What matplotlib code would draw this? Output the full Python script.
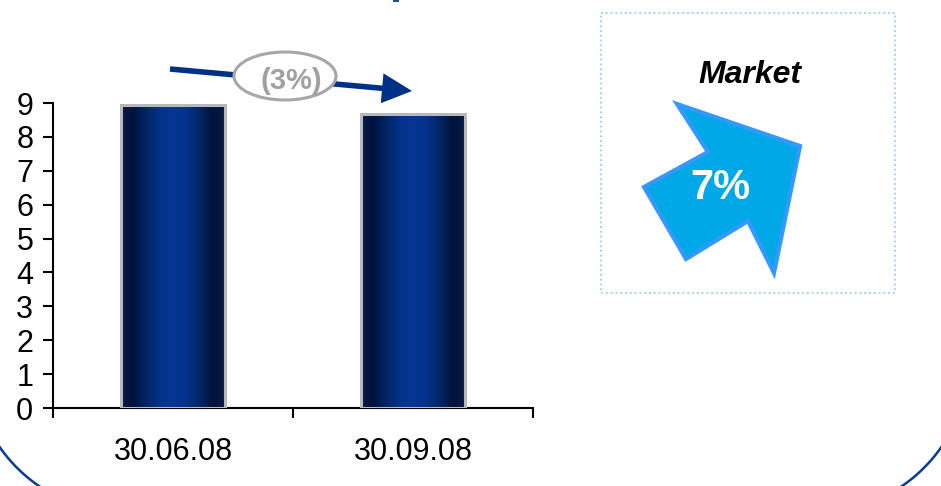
import numpy as np
import matplotlib
matplotlib.use("Agg")
import matplotlib.pyplot as plt
from matplotlib.colors import LinearSegmentedColormap
from matplotlib.patches import Ellipse, Rectangle, Polygon

plt.rcParams['font.family'] = ['Liberation Sans', 'DejaVu Sans']

# ---- data ----
categories = ['30.06.08', '30.09.08']
values = [8.95, 8.67]
y_ticks = [0, 1, 2, 3, 4, 5, 6, 7, 8, 9]
change_label = '(3%)'
market_title = 'Market'
market_label = '7%'

W, H = 941, 486
fig = plt.figure(figsize=(W / 100, H / 100), dpi=100)

# main chart axes
ax = fig.add_axes([53 / W, 1 - 408 / H, 480 / W, 305 / H])
x = np.arange(len(categories))
bars = ax.bar(x, values, width=0.43, facecolor='none', edgecolor='#b8b8b8',
              linewidth=2.2, zorder=3)

cmap = LinearSegmentedColormap.from_list(
    'barg', ['#0a1a45', '#00133d', '#022766', '#05328a', '#073795',
             '#05328a', '#022766', '#00133d', '#0a1a45'])
grad = np.linspace(0, 1, 256).reshape(1, -1)
for b in bars:
    x0, w, h = b.get_x(), b.get_width(), b.get_height()
    im = ax.imshow(grad, extent=[x0, x0 + w, 0, h], aspect='auto', cmap=cmap,
                   zorder=2, interpolation='bicubic')
    im.set_clip_path(b)

ax.set_xlim(-0.5, 1.5)
ax.set_ylim(0, 9)
ax.set_yticks(y_ticks)
ax.set_yticklabels([str(t) for t in y_ticks])
ax.set_xticks([-0.5, 0.5, 1.5])
ax.set_xticklabels([])
ax.set_xticks(x, minor=True)
ax.set_xticklabels(categories, minor=True)
ax.tick_params(axis='x', which='major', length=7.2, width=1.5, direction='out')
ax.tick_params(axis='x', which='minor', length=0, pad=21, labelsize=22)
ax.tick_params(axis='y', length=7.2, width=1.5, direction='out', pad=7, labelsize=22)
for s in ['top', 'right']:
    ax.spines[s].set_visible(False)
for s in ['left', 'bottom']:
    ax.spines[s].set_linewidth(1.5)
ax.patch.set_visible(False)

# overlay axes in pixel coordinates
ov = fig.add_axes([0, 0, 1, 1], zorder=5)
ov.set_xlim(0, W)
ov.set_ylim(H, 0)
ov.axis('off')
ov.patch.set_visible(False)

# rounded panel border corners (panel mostly outside the picture)
r = 154
t = np.linspace(0, np.pi / 2, 100)
for cx, sgn in [(126, -1), (W - 126, 1)]:
    ov.plot(cx + sgn * r * np.cos(t), 359 + r * np.sin(t), color='#0a3d91',
            linewidth=1.8, zorder=1)

# cut-off title fragment
ov.add_patch(Rectangle((393, -1), 6, 3.5, facecolor='#1a4fa0', edgecolor='none'))

# change arrow
p0 = np.array([170.0, 69.0])
tip = np.array([412.0, 91.0])
d = (tip - p0) / np.linalg.norm(tip - p0)
n = np.array([-d[1], d[0]])
base = tip - d * 30
ov.plot([p0[0], base[0] + d[0] * 2], [p0[1], base[1] + d[1] * 2],
        color='#003087', linewidth=4, solid_capstyle='butt', zorder=2)
ov.add_patch(Polygon([tip, base + n * 15, base - n * 15], closed=True,
                     facecolor='#003087', edgecolor='none', zorder=2))
ov.add_patch(Ellipse((285, 76), 102, 48, facecolor='white', edgecolor='#a6a6a6',
                     linewidth=2.2, zorder=3))
ov.text(291, 81, change_label, color='#a0a0a0', fontsize=21, fontweight='bold',
        ha='center', va='center', zorder=4)

# market box
ov.add_patch(Rectangle((601, 13), 294, 280, fill=False, edgecolor='#99ccff',
                       linestyle=':', linewidth=1.3, zorder=2))
ov.text(750, 75, market_title, fontsize=23, fontweight='bold', style='italic',
        ha='center', va='center', color='black', zorder=4)
arrow_poly = [(677, 104), (800, 146), (774, 273), (748, 221), (686, 259),
              (644, 187), (708, 152)]
ov.add_patch(Polygon(arrow_poly, closed=True, facecolor='#00a8e8',
                     edgecolor='#3399ff', linewidth=3, joinstyle='miter', zorder=3))
ov.text(720, 188, market_label, fontsize=30, fontweight='bold', color='white',
        ha='center', va='center', zorder=4)

fig.savefig('out.png', dpi=100)
